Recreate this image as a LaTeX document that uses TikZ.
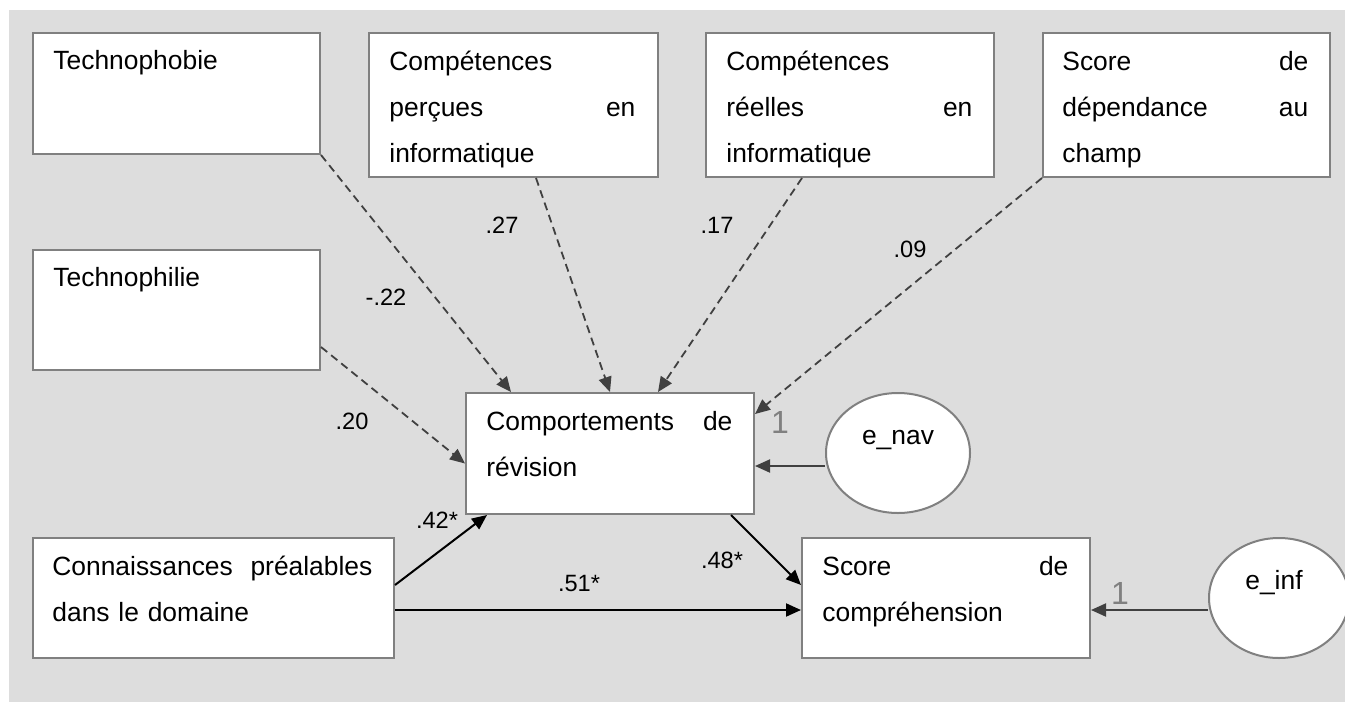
\documentclass[tikz,border=0pt]{standalone}
\usepackage{fontspec}
\setmainfont{Liberation Sans}
\usetikzlibrary{arrows.meta,calc,shapes.geometric}
\definecolor{bggray}{HTML}{DDDDDD}
\definecolor{boxgray}{HTML}{808080}
\definecolor{arrgray}{HTML}{404040}
\begin{document}
\begin{tikzpicture}[x=0.5pt,y=-0.5pt,
  box/.style={draw=boxgray, line width=1pt, fill=white, rectangle, inner sep=0pt},
  oval/.style={draw=boxgray, line width=1pt, fill=white, ellipse, inner sep=0pt},
  txt/.style={anchor=base west, inner sep=0pt, align=left, text width=123pt, font=\fontsize{13.2pt}{23pt}\selectfont},
  coef/.style={inner sep=0pt, font=\fontsize{11.8pt}{14pt}\selectfont},
  one/.style={inner sep=0pt, text=boxgray, font=\fontsize{16pt}{18pt}\selectfont},
  tip/.style={-{Triangle[length=7.5pt,width=6.5pt]}},
  dasharrow/.style={tip, draw=arrgray, line width=0.9pt, dash pattern=on 4pt off 2.5pt},
  solidarrow/.style={tip, draw=black, line width=1pt},
  errarrow/.style={tip, draw=arrgray, line width=1pt}]
\useasboundingbox (0,0) rectangle (1345,702);
\fill[bggray] (9,10) rectangle (1345,702);

% boxes
\node[box, minimum width=143.5pt, minimum height=60.5pt] (tphob) at (176.5,93.5) {};
\node[box, minimum width=143.5pt, minimum height=60pt] (tphil) at (176.5,310) {};
\node[box, minimum width=144.5pt, minimum height=72pt] (cperc) at (513.5,105) {};
\node[box, minimum width=144pt, minimum height=72pt] (creel) at (850,105) {};
\node[box, minimum width=143.5pt, minimum height=72pt] (sdep) at (1186.5,105) {};
\node[box, minimum width=144pt, minimum height=60.5pt] (comp) at (610,453.5) {};
\node[box, minimum width=180.5pt, minimum height=60pt] (conn) at (213.5,598) {};
\node[box, minimum width=144pt, minimum height=60pt] (score) at (946,598) {};
\node[oval, minimum width=72pt, minimum height=60pt] (enav) at (898,453) {};
\node[oval, minimum width=70pt, minimum height=60pt] (einf) at (1279,598) {};

% texts
\node[txt] (tphobt) at ($(tphob.north west)+(21,37)$) {Technophobie};
\node[txt] (tphilt) at ($(tphil.north west)+(21,37)$) {Technophilie};
\node[txt] (cperct) at ($(cperc.north west)+(21,38)$) {Compétences\\perçues\hfill en\\informatique};
\node[txt] (creelt) at ($(creel.north west)+(21,38)$) {Compétences\\réelles\hfill en\\informatique};
\node[txt] (sdept) at ($(sdep.north west)+(20,38)$) {Score\hfill de\\dépendance\hfill au\\champ};
\node[txt] (compt) at ($(comp.north west)+(21,38)$) {Comportements\hfill de\\révision};
\node[txt, text width=160pt] (connt) at ($(conn.north west)+(20,38)$) {Connaissances\hfill préalables\\dans le domaine};
\node[txt] (scoret) at ($(score.north west)+(21,38)$) {Score\hfill de\\compréhension};
\node[anchor=base, inner sep=0pt, font=\fontsize{13.2pt}{23pt}\selectfont] (enavt) at ($(enav.center)+(0,-9)$) {e\_nav};
\node[anchor=base, inner sep=0pt, font=\fontsize{13.2pt}{23pt}\selectfont] (einft) at ($(einf.center)+(-5,-9)$) {e\_inf};

% connectors
\draw[dasharrow] (tphob.south east) -- ($(comp.north west)+(46,0)$);
\draw[dasharrow] ($(cperc.south west)+(168,0)$) -- (comp.north);
\draw[dasharrow] ($(creel.south west)+(97,0)$) -- ($(comp.north)+(48,0)$);
\draw[dasharrow] (sdep.south west) -- ($(comp.north east)+(0,22)$);
\draw[dasharrow] ($(tphil.east)+(0,37)$) -- ($(comp.west)+(0,10)$);
\coordinate (navin) at ($(comp.east)+(0,12.5)$);
\draw[errarrow] (enav.west |- navin) -- (navin);
\draw[solidarrow] ($(conn.east)+(0,-13)$) -- ($(comp.south west)+(22,0)$);
\draw[solidarrow] ($(conn.east)+(0,12)$) -- ($(score.west)+(0,12)$);
\draw[solidarrow] ($(comp.south east)+(-24,0)$) -- ($(score.west)+(0,-13)$);
\coordinate (infin) at ($(score.east)+(0,12)$);
\draw[errarrow] (einf.west |- infin) -- (infin);

% labels
\node[coef] (lphob) at (386,297) {-.22};
\node[coef] (lperc) at (502,225) {.27};
\node[coef] (lreel) at (717,225) {.17};
\node[coef] (ldep) at (910,249) {.09};
\node[coef] (lphil) at (352,421) {.20};
\node[coef] (lconncomp) at (437,520) {.42*};
\node[coef] (lcompscore) at (722,560) {.48*};
\node[coef] (lconnscore) at (579,583) {.51*};
\node[one] (onav) at (780,422) {1};
\node[one] (oinf) at (1120,593) {1};
\end{tikzpicture}
\end{document}
